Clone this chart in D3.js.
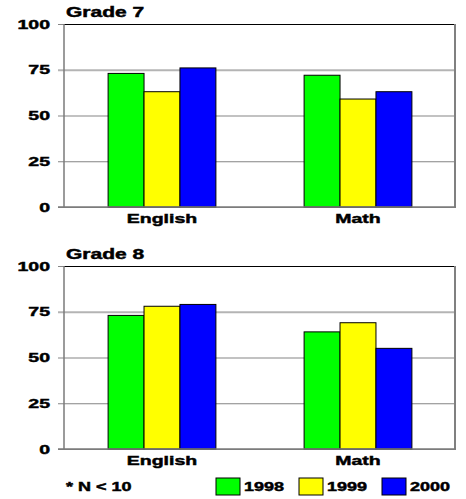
<!DOCTYPE html>
<html>
<head>
<meta charset="utf-8">
<script src="https://cdn.jsdelivr.net/npm/d3@7"></script>
<style>
  html, body { margin: 0; padding: 0; background: #fff; }
  svg { display: block; font-family: "Liberation Sans", Arial, sans-serif; font-weight: bold; }
  svg text { stroke: #000; stroke-width: 0.45px; }
</style>
</head>
<body>
<svg id="chart" width="466" height="499"></svg>
<script>
// Data
const subjects = ["English", "Math"];
const years = ["1998", "1999", "2000"];
const yearColors = ["#00ff00", "#ffff00", "#0000ff"];
const grade7English = [73, 63, 76];
const grade7Math = [72, 59, 63];
const grade8English = [73, 78, 79];
const grade8Math = [64, 69, 55];
const yTicks = [0, 25, 50, 75, 100];
const panelTitles = ["Grade 7", "Grade 8"];
const footnote = "* N < 10";

const panels = [
  { title: panelTitles[0], rows: [grade7English, grade7Math], top: 24, bottom: 207 },
  { title: panelTitles[1], rows: [grade8English, grade8Math], top: 266, bottom: 449 }
];

const svg = d3.select("#chart");
const left = 64, right = 456;
const stretch = 1.5; // wide letterforms

function label(g, x, y, text, size, anchor) {
  return g.append("text")
    .attr("transform", `translate(${x},${y}) scale(${stretch},1)`)
    .attr("text-anchor", anchor)
    .attr("font-size", size)
    .attr("fill", "#000")
    .text(text);
}

const x0 = d3.scaleBand().domain(subjects).range([left, right])
  .paddingInner(0.45).paddingOuter(0.225);
const x1 = d3.scaleBand().domain(years).range([0, x0.bandwidth()]);
const color = d3.scaleOrdinal().domain(years).range(yearColors);

panels.forEach(p => {
  const g = svg.append("g");
  const y = d3.scaleLinear().domain([0, 100]).range([p.bottom, p.top]);

  // gridlines with their tick stubs, plus tick labels
  const axis = g.append("g")
    .attr("transform", `translate(${left - 6},0)`)
    .call(d3.axisLeft(y).tickValues(yTicks)
      .tickSizeInner(-(right - left + 6)).tickSizeOuter(0).tickPadding(5.3));
  axis.select(".domain").remove();
  axis.selectAll(".tick line")
    .attr("stroke", d => d === 75 ? "#b4b4b4" : "#858585")
    .attr("stroke-width", d => d === 75 ? 2 : 1.2);
  axis.selectAll(".tick text")
    .attr("font-size", 13)
    .attr("font-family", "Liberation Sans, Arial, sans-serif")
    .attr("font-weight", "bold")
    .attr("fill", "#000")
    .attr("transform", `scale(${stretch},1)`);

  // bars
  const groups = g.selectAll(".grp").data(subjects).join("g")
    .attr("transform", s => `translate(${x0(s)},0)`);
  groups.selectAll("rect")
    .data((s, i) => p.rows[i].map((v, j) => ({ year: years[j], value: v })))
    .join("rect")
    .attr("x", d => x1(d.year))
    .attr("y", d => y(d.value))
    .attr("width", x1.bandwidth())
    .attr("height", d => y(0) - y(d.value))
    .attr("fill", d => color(d.year))
    .attr("stroke", "#000")
    .attr("stroke-width", 1);

  // frame
  g.append("line").attr("x1", left).attr("x2", right).attr("y1", p.top + 0.5).attr("y2", p.top + 0.5)
    .attr("stroke", "#000").attr("stroke-width", 1.2);
  g.append("line").attr("x1", left).attr("x2", left).attr("y1", p.top).attr("y2", p.bottom)
    .attr("stroke", "#7a7a7a").attr("stroke-width", 1.5);
  g.append("line").attr("x1", right - 1).attr("x2", right - 1).attr("y1", p.top).attr("y2", p.bottom)
    .attr("stroke", "#808080").attr("stroke-width", 2);
  g.append("line").attr("x1", left - 6).attr("x2", right).attr("y1", p.bottom).attr("y2", p.bottom)
    .attr("stroke", "#7a7a7a").attr("stroke-width", 1.5);

  // category labels and title
  subjects.forEach(s => label(g, x0(s) + x0.bandwidth() / 2, p.bottom + 16, s, 13, "middle"));
  label(g, 66, p.top - 7, p.title, 14, "start");
});

// legend
const legend = svg.append("g");
const lx = d3.scaleBand().domain(years).range([216, 465]);
years.forEach(yr => {
  legend.append("rect")
    .attr("x", lx(yr)).attr("y", 478).attr("width", 24).attr("height", 17)
    .attr("fill", color(yr)).attr("stroke", "#000").attr("stroke-width", 1);
  label(legend, lx(yr) + 28, 491, yr, 12, "start");
});
label(legend, 66, 491, footnote, 12, "start");
</script>
</body>
</html>
